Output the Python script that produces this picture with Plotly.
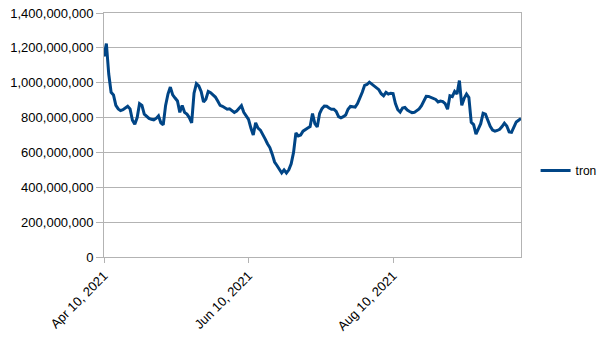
import datetime as dt
import plotly.graph_objects as go

start_date = dt.date(2021, 4, 10)
series_name = "tron"
tron_values = [
    1150, 1225, 1050, 945, 930, 870, 850, 840, 845, 855,
    865, 850, 785, 762, 800, 880, 870, 820, 805, 795,
    790, 787, 795, 810, 770, 758, 870, 935, 975, 930,
    912, 895, 830, 870, 830, 820, 800, 770, 940, 995,
    982, 950, 890, 905, 950, 943, 930, 918, 895, 870,
    865, 858, 848, 850, 840, 830, 838, 853, 868, 830,
    812, 790, 740, 700, 770, 740, 728, 705, 678, 650,
    628, 590, 545, 525, 500, 482, 500, 482, 500, 535,
    600, 712, 695, 700, 722, 733, 740, 748, 823, 765,
    746, 823, 851, 866, 865, 855, 848, 848, 835, 805,
    798, 805, 815, 848, 864, 862, 860, 880, 908, 945,
    985, 990, 1003, 992, 980, 973, 960, 937, 925, 945,
    935, 940, 938, 880, 845, 832, 855, 858, 843, 835,
    828, 830, 842, 850, 868, 900, 922, 921, 914, 907,
    904, 890, 895, 892, 880, 848, 925, 920, 950, 935,
    1012, 870, 910, 935, 915, 773, 760, 705, 740, 765,
    825, 820, 785, 750, 728, 722, 726, 733, 748, 768,
    752, 718, 715, 745, 775, 785, 795,
]
dates = [start_date + dt.timedelta(days=i) for i in range(len(tron_values))]
values = [v * 1_000_000 for v in tron_values]

x_tick_dates = [dt.date(2021, 4, 10), dt.date(2021, 6, 10), dt.date(2021, 8, 10)]
y_tick_values = [0, 200e6, 400e6, 600e6, 800e6, 1000e6, 1200e6, 1400e6]
y_tick_labels = ["0", "200,000,000", "400,000,000", "600,000,000", "800,000,000",
                 "1,000,000,000", "1,200,000,000", "1,400,000,000"]

fig = go.Figure()
fig.add_trace(go.Scatter(
    x=dates, y=values, mode="lines", name=series_name,
    line=dict(color="#004586", width=3),
))

grid = "#b3b3b3"
fig.update_layout(
    width=605, height=340,
    margin=dict(l=104, r=84, t=13, b=83, autoexpand=False),
    paper_bgcolor="white", plot_bgcolor="white",
    font=dict(family="Liberation Sans, Arial, sans-serif", size=13, color="#000000"),
    showlegend=True,
    legend=dict(x=1.035, y=0.354, xanchor="left", yanchor="middle",
                font=dict(size=12), bgcolor="rgba(0,0,0,0)"),
    xaxis=dict(
        range=[dates[0], dates[-1]], automargin=False,
        tickvals=x_tick_dates, tickformat="%b %d, %Y", tickangle=-45,
        showgrid=False, showline=True, linecolor=grid, linewidth=1, mirror=True,
        ticks="outside", ticklen=5, tickcolor=grid, zeroline=False,
    ),
    yaxis=dict(
        range=[0, 1400e6], tickvals=y_tick_values, ticktext=y_tick_labels,
        automargin=False,
        showgrid=True, gridcolor=grid, gridwidth=1,
        showline=True, linecolor=grid, linewidth=1, mirror=True,
        ticks="outside", ticklen=7, tickcolor=grid, zeroline=False,
    ),
)

fig.write_html("out.html")
